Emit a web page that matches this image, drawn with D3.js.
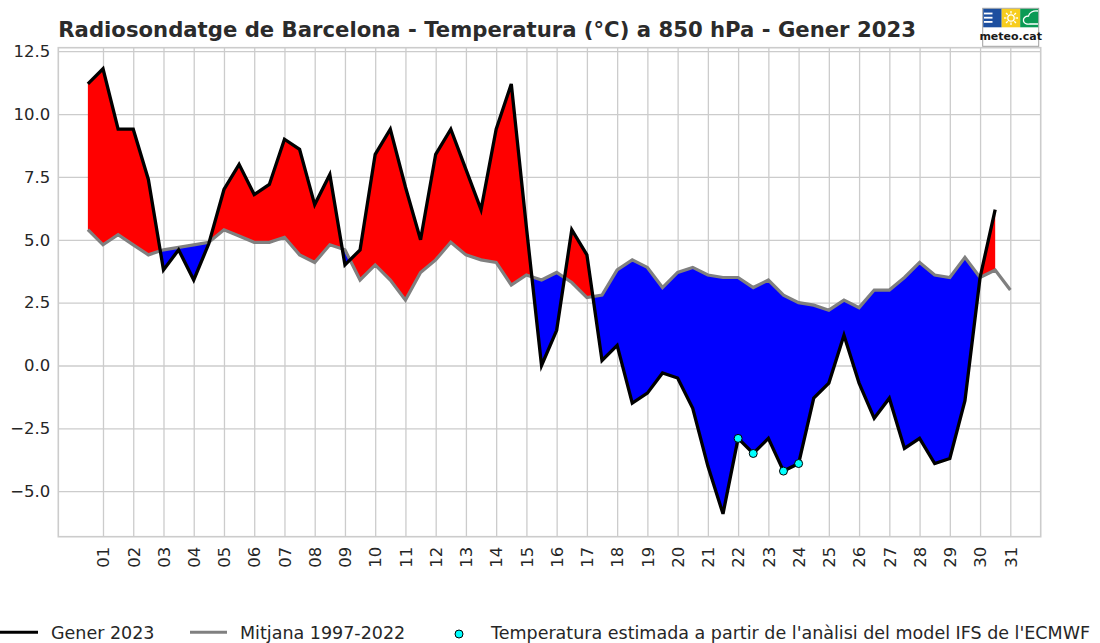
<!DOCTYPE html>
<html>
<head>
<meta charset="utf-8">
<script src="https://cdn.jsdelivr.net/npm/d3@7"></script>
<style>
  html, body { margin: 0; padding: 0; background: #ffffff; }
  svg { display: block; font-family: "DejaVu Sans", sans-serif; }
</style>
</head>
<body>
<svg id="chart" width="1100" height="643"></svg>
<script>
// ---------------- data ----------------
const title = "Radiosondatge de Barcelona - Temperatura (°C) a 850 hPa - Gener 2023";

// sounding positions (days, 00 and 12 UTC)
const obsSteps = [0.5,1,1.5,2,2.5,3,3.5,4,4.5,5,5.5,6,6.5,7,7.5,8,8.5,9,9.5,10,
  10.5,11,11.5,12,12.5,13,13.5,14,14.5,15,15.5,16,16.5,17,17.5,18,18.5,19,19.5,20,
  20.5,21,21.5,22,22.5,23,23.5,24,24.5,25,25.5,26,26.5,27,27.5,28,28.5,29,29.5,30,30.5];
const meanSteps = [0.5,1,1.5,2,2.5,3,3.5,4,4.5,5,5.5,6,6.5,7,7.5,8,8.5,9,9.5,10,
  10.5,11,11.5,12,12.5,13,13.5,14,14.5,15,15.5,16,16.5,17,17.5,18,18.5,19,19.5,20,
  20.5,21,21.5,22,22.5,23,23.5,24,24.5,25,25.5,26,26.5,27,27.5,28,28.5,29,29.5,30,30.5,31];

// Gener 2023 temperature at 850 hPa (°C)
const obsValues = [11.2,11.8,9.4,9.4,7.4,3.8,4.6,3.4,4.85,7.0,8.0,6.8,7.2,9.0,8.6,6.4,7.6,4.0,4.6,8.4,
  9.4,7.1,5.0,8.4,9.4,7.8,6.2,9.4,11.2,5.5,0.0,1.4,5.4,4.4,0.2,0.8,-1.5,-1.1,-0.3,-0.5,
  -1.7,-4.0,-5.9,-2.9,-3.5,-2.9,-4.2,-3.9,-1.3,-0.7,1.2,-0.7,-2.1,-1.3,-3.3,-2.9,-3.9,-3.7,-1.4,3.5,6.2];

// Mitjana 1997-2022 (°C)
const meanValues = [5.4,4.8,5.2,4.8,4.4,4.6,4.7,4.8,4.9,5.4,5.15,4.9,4.9,5.1,4.4,4.1,4.8,4.6,3.4,4.0,
  3.4,2.6,3.7,4.2,4.9,4.4,4.2,4.1,3.2,3.6,3.4,3.7,3.3,2.7,2.8,3.8,4.2,3.9,3.1,3.7,
  3.9,3.6,3.5,3.5,3.1,3.4,2.8,2.5,2.4,2.2,2.6,2.3,3.0,3.0,3.5,4.1,3.6,3.5,4.3,3.5,3.8,3.0];

// estimated values from ECMWF IFS analysis
const estSteps = [22, 22.5, 23.5, 24];
const estValues = [-2.9, -3.5, -4.2, -3.9];

const dayTicks = [1,2,3,4,5,6,7,8,9,10,11,12,13,14,15,16,17,18,19,20,21,22,23,24,25,26,27,28,29,30,31];
const dayLabels = ["01","02","03","04","05","06","07","08","09","10","11","12","13","14","15","16",
  "17","18","19","20","21","22","23","24","25","26","27","28","29","30","31"];
const yTicks = [-5, -2.5, 0, 2.5, 5, 7.5, 10, 12.5];
const yTickLabels = ["\u22125.0", "\u22122.5", "0.0", "2.5", "5.0", "7.5", "10.0", "12.5"];

const legendLabels = ["Gener 2023", "Mitjana 1997-2022",
  "Temperatura estimada a partir de l'anàlisi del model IFS de l'ECMWF"];

// ---------------- layout ----------------
const L = 58.3, R = 1040.7, T = 47.7, B = 536.7;
const textColor = "#262626";
const gridColor = "#cccccc";

const svg = d3.select("#chart");
const x = d3.scaleLinear().domain([-0.478, 32.005]).range([L, R]);
const y = d3.scaleLinear().domain([-6.81, 12.64]).range([B, T]);

// grid + axes
const yAxis = d3.axisLeft(y).tickValues(yTicks)
  .tickFormat((d, i) => yTickLabels[i]).tickSize(-(R - L)).tickPadding(8);
const gy = svg.append("g").attr("transform", `translate(${L},0)`).call(yAxis);
gy.select(".domain").remove();
gy.selectAll(".tick line").attr("stroke", gridColor).attr("stroke-width", 1.3);
gy.selectAll(".tick text").attr("fill", textColor).attr("font-size", "16.5px")
  .attr("font-family", "DejaVu Sans");

const xAxis = d3.axisBottom(x).tickValues(dayTicks)
  .tickFormat((d, i) => dayLabels[i]).tickSize(-(B - T)).tickPadding(0);
const gx = svg.append("g").attr("transform", `translate(0,${B})`).call(xAxis);
gx.select(".domain").remove();
gx.selectAll(".tick line").attr("stroke", gridColor).attr("stroke-width", 1.3);
gx.selectAll(".tick text")
  .attr("fill", textColor).attr("font-size", "16.5px").attr("font-family", "DejaVu Sans")
  .attr("text-anchor", "end")
  .attr("transform", "translate(0,10) rotate(-90)")
  .attr("x", 0).attr("y", 0).attr("dy", "0.35em");

// frame
svg.append("rect").attr("x", L).attr("y", T).attr("width", R - L).attr("height", B - T)
  .attr("fill", "none").attr("stroke", gridColor).attr("stroke-width", 1.6);

// ---------------- fill between obs and mean ----------------
const pts = [];
for (let i = 0; i < obsSteps.length; i++) {
  const o = obsValues[i], m = meanValues[i];
  pts.push({ t: obsSteps[i], o, m });
  if (i < obsSteps.length - 1) {
    const d0 = o - m, d1 = obsValues[i + 1] - meanValues[i + 1];
    if (d0 * d1 < 0) {
      const f = d0 / (d0 - d1);
      const t = obsSteps[i] + f * (obsSteps[i + 1] - obsSteps[i]);
      const v = m + f * (meanValues[i + 1] - m);
      pts.push({ t, o: v, m: v });
    }
  }
}
const areaRed = d3.area().x(d => x(d.t)).y0(d => y(d.m)).y1(d => y(Math.max(d.o, d.m)));
const areaBlue = d3.area().x(d => x(d.t)).y0(d => y(d.m)).y1(d => y(Math.min(d.o, d.m)));
svg.append("path").datum(pts).attr("d", areaRed).attr("fill", "#ff0000");
svg.append("path").datum(pts).attr("d", areaBlue).attr("fill", "#0000ff");

// ---------------- lines ----------------
const line = d3.line().x(d => x(d[0])).y(d => y(d[1]));
svg.append("path").datum(meanSteps.map((t, i) => [t, meanValues[i]]))
  .attr("d", line).attr("fill", "none").attr("stroke", "#808080")
  .attr("stroke-width", 3.2).attr("stroke-linejoin", "miter");
svg.append("path").datum(obsSteps.map((t, i) => [t, obsValues[i]]))
  .attr("d", line).attr("fill", "none").attr("stroke", "#000000")
  .attr("stroke-width", 3.3).attr("stroke-linejoin", "miter");

// estimated points
svg.append("g").selectAll("circle").data(estSteps).join("circle")
  .attr("cx", d => x(d)).attr("cy", (d, i) => y(estValues[i])).attr("r", 4)
  .attr("fill", "#00ffff").attr("stroke", "#000").attr("stroke-width", 1);

// ---------------- title ----------------
svg.append("text").attr("x", 58.3).attr("y", 36.7).text(title)
  .attr("font-family", "DejaVu Sans").attr("font-weight", "bold")
  .attr("font-size", "21.2px").attr("fill", "#2b2b2b");

// ---------------- logo ----------------
const logo = svg.append("g");
logo.append("rect").attr("x", 982.7).attr("y", 8.3).attr("width", 56).attr("height", 38)
  .attr("fill", "#fff").attr("stroke", "#a0a0a0").attr("stroke-width", 1);
logo.append("rect").attr("x", 983.2).attr("y", 8.8).attr("width", 18.5).attr("height", 18.5).attr("fill", "#1d4f9f");
logo.append("rect").attr("x", 1001.7).attr("y", 8.8).attr("width", 18.5).attr("height", 18.5).attr("fill", "#f7cd1e");
logo.append("rect").attr("x", 1020.2).attr("y", 8.8).attr("width", 18.0).attr("height", 18.5).attr("fill", "#0b9a55");
[12.6, 16.8, 21.0].forEach(yy => logo.append("rect").attr("x", 984).attr("y", yy)
  .attr("width", 8.5).attr("height", 1.8).attr("fill", "#fff"));
logo.append("circle").attr("cx", 1011).attr("cy", 18).attr("r", 3.2).attr("fill", "none")
  .attr("stroke", "#fff").attr("stroke-width", 1.3);
for (let k = 0; k < 8; k++) {
  const a = k * Math.PI / 4;
  logo.append("line").attr("x1", 1011 + 4.6 * Math.cos(a)).attr("y1", 18 + 4.6 * Math.sin(a))
    .attr("x2", 1011 + 7 * Math.cos(a)).attr("y2", 18 + 7 * Math.sin(a))
    .attr("stroke", "#fff").attr("stroke-width", 1.3);
}
logo.append("path").attr("d", "M1038,11 C1033,10 1029,13 1028.5,16 C1025,16 1023,18.5 1023.5,21 C1024,23.5 1027,24.5 1030,24 L1038,24")
  .attr("fill", "none").attr("stroke", "#fff").attr("stroke-width", 1.3);
logo.append("text").attr("x", 1010.7).attr("y", 39.8).attr("text-anchor", "middle")
  .attr("font-family", "DejaVu Sans").attr("font-size", "11px").attr("font-weight", "600")
  .attr("fill", "#1a1a1a").text("meteo.cat");

// ---------------- legend ----------------
const lg = svg.append("g");
const ly = 632.3, lty = 638.8;
lg.append("line").attr("x1", 0).attr("x2", 38).attr("y1", ly).attr("y2", ly)
  .attr("stroke", "#000").attr("stroke-width", 3);
lg.append("text").attr("x", 51).attr("y", lty).text(legendLabels[0]);
lg.append("line").attr("x1", 190).attr("x2", 227).attr("y1", ly).attr("y2", ly)
  .attr("stroke", "#808080").attr("stroke-width", 3);
lg.append("text").attr("x", 240).attr("y", lty).text(legendLabels[1]);
lg.append("circle").attr("cx", 459).attr("cy", 634).attr("r", 4)
  .attr("fill", "#00ffff").attr("stroke", "#000").attr("stroke-width", 1);
lg.append("text").attr("x", 491).attr("y", lty).text(legendLabels[2]);
lg.selectAll("text").attr("font-family", "DejaVu Sans").attr("font-size", "17.5px").attr("fill", textColor);
</script>
</body>
</html>
